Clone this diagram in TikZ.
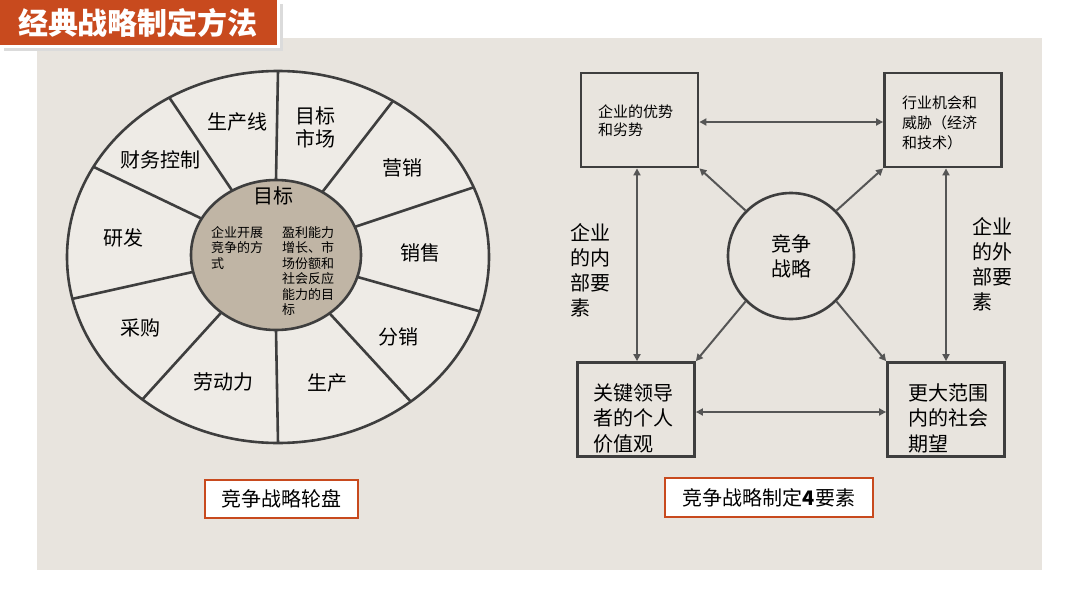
\documentclass[tikz,border=0pt]{standalone}
\usepackage{fontspec}
\newfontfamily\cjk{Noto Sans CJK SC}
\usetikzlibrary{arrows.meta,calc}
\definecolor{panel}{RGB}{232,228,222}
\definecolor{titlered}{RGB}{200,74,30}
\definecolor{hub}{RGB}{192,181,165}
\definecolor{ink}{RGB}{62,62,62}
\definecolor{arrcol}{RGB}{85,85,85}
\begin{document}
\begin{tikzpicture}[x=1pt,y=-1pt,font=\cjk,
  wl/.style={font=\cjk\fontsize{20}{23}\selectfont,text=black,align=center,inner sep=0pt},
  hubtxt/.style={font=\cjk\fontsize{13}{15.5}\selectfont,text=black,align=left,inner sep=0pt,anchor=north west},
  rim/.style={draw=ink,line width=2.6pt},
  boxx/.style={draw=ink,line width=2.8pt,minimum width=117pt,minimum height=94pt,inner sep=0pt},
  bt/.style={text=black,align=left,inner sep=0pt,anchor=west},
  arr/.style={draw=arrcol,line width=2pt,{Triangle[length=7pt,width=7pt]}-{Triangle[length=7pt,width=7pt]}},
  arr1/.style={draw=arrcol,line width=2pt,-{Triangle[length=7pt,width=7pt]}},
  captionbox/.style={draw=titlered,fill=white,line width=2.5pt,font=\cjk\fontsize{20}{22}\selectfont,text=black,inner sep=0pt}
]
\useasboundingbox (0,0) rectangle (1080,608);
\fill[white] (0,0) rectangle (1080,608);
% panel
\fill[panel] (37,38) rectangle (1042,570);
% title
\fill[black!14] (4,4) rectangle (283,51);
\draw[fill=titlered,draw=white,line width=3pt] (-3,-3) rectangle (278,46);
\node[font=\cjk\bfseries\fontsize{30}{32}\selectfont,text=white] (title) at (138,23) {经典战略制定方法};

% ---------- wheel ----------
\coordinate (wc) at (278,257);
\coordinate (hc) at (276,255);
\fill[white!25!panel] (wc) ellipse [x radius=211pt,y radius=186pt];
\draw[rim] (wc) ellipse [x radius=211pt,y radius=186pt];
\foreach \a in {90,57,22,-17,-51,-90,-130,-167,151,121}{
  \draw[rim] ($(hc)+(\a:85pt and 75pt)$) -- ($(wc)+(\a:211pt and 186pt)$);
}
\draw[rim,fill=hub] (hc) ellipse [x radius=85pt,y radius=75pt];

\node[wl] (w1) at (315,127) {目标\\市场};
\node[wl] (w2) at (237,122) {生产线};
\node[wl] (w3) at (160,160) {财务控制};
\node[wl] (w4) at (123,238) {研发};
\node[wl] (w5) at (140,328) {采购};
\node[wl] (w6) at (223,382) {劳动力};
\node[wl] (w7) at (327,383) {生产};
\node[wl] (w8) at (398,337) {分销};
\node[wl] (w9) at (420,253) {销售};
\node[wl] (w10) at (402,168) {营销};
\node[wl] (hubt) at (273,196) {目标};
\node[hubtxt] (hubl) at (211,226) {企业开展\\竞争的方\\式};
\node[hubtxt] (hubr) at (282,226) {盈利能力\\增长、市\\场份额和\\社会反应\\能力的目\\标};

% ---------- four elements ----------
\node[boxx] (tl) at (639.5,120) {};
\node[boxx] (tr) at (943,120) {};
\node[boxx] (bl) at (636,409.5) {};
\node[boxx] (br) at (946,409.5) {};
\node[bt,font=\cjk\fontsize{15}{18}\selectfont] (tlt) at (598,121) {企业的优势\\和劣势};
\node[bt,font=\cjk\fontsize{15}{20}\selectfont] (trt) at (902,123) {行业机会和\\威胁（经济\\和技术）};
\node[bt,font=\cjk\fontsize{20}{25.5}\selectfont] (blt) at (593,418) {关键领导\\者的个人\\价值观};
\node[bt,font=\cjk\fontsize{20}{25.5}\selectfont] (brt) at (908,418) {更大范围\\内的社会\\期望};
\node[draw=ink,line width=2.6pt,circle,minimum size=126pt,inner sep=0pt,
      font=\cjk\fontsize{20}{25}\selectfont,align=center] (core) at (791,256) {竞争\\战略};
\node[bt,font=\cjk\fontsize{20}{25}\selectfont] (inl) at (570,270) {企业\\的内\\部要\\素};
\node[bt,font=\cjk\fontsize{20}{25}\selectfont] (outl) at (972,264) {企业\\的外\\部要\\素};

\draw[arr] (tl.east |- 0,122) -- (tr.west |- 0,122);
\draw[arr] (bl.east |- 0,412) -- (br.west |- 0,412);
\draw[arr] (tl.south -| 637,0) -- (bl.north -| 637,0);
\draw[arr] (tr.south -| 946,0) -- (br.north -| 946,0);
\draw[arr1] (core.135) -- (tl.south east);
\draw[arr1] (core.45) -- (tr.south west);
\draw[arr1] (core.225) -- (bl.north east);
\draw[arr1] (core.-45) -- (br.north west);

% ---------- captions ----------
\node[captionbox,minimum width=153pt,minimum height=38pt] (cap1) at (281.5,499) {竞争战略轮盘};
\node[captionbox,minimum width=208pt,minimum height=39pt] (cap2) at (769,497.5) {竞争战略制定\textbf{4}要素};
\end{tikzpicture}
\end{document}
